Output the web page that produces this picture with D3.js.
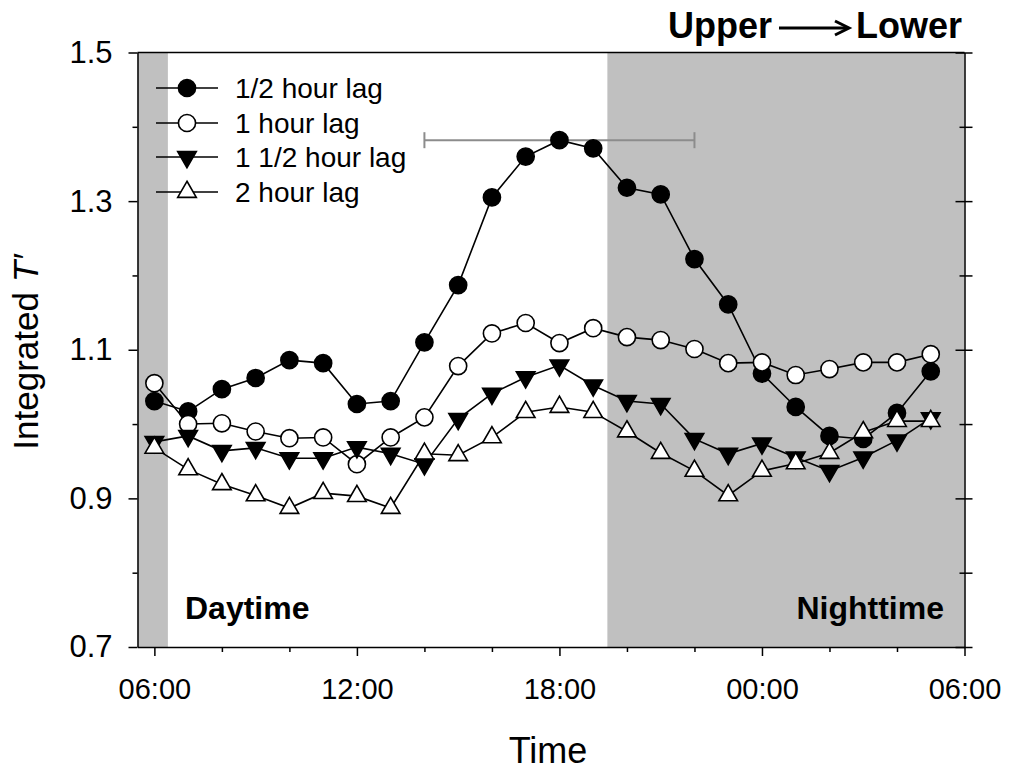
<!DOCTYPE html>
<html>
<head>
<meta charset="utf-8">
<script src="https://cdn.jsdelivr.net/npm/d3@7"></script>
<style>
  html, body { margin: 0; padding: 0; background: #fff; }
  svg { display: block; font-family: "Liberation Sans", Arial, sans-serif; }
</style>
</head>
<body>
<svg id="chart" width="1023" height="771"></svg>
<script>
// ---- data ----
const hours = [6,7,8,9,10,11,12,13,14,15,16,17,18,19,20,21,22,23,24,25,26,27,28,29];
const lagHalf = [1.031,1.017,1.047,1.062,1.086,1.082,1.027,1.031,1.110,1.187,1.305,1.360,1.382,1.371,1.318,1.309,1.222,1.161,1.068,1.023,0.984,0.980,1.015,1.071];
const lagOne = [1.055,1.000,1.001,0.990,0.981,0.982,0.946,0.982,1.009,1.078,1.122,1.136,1.109,1.129,1.117,1.113,1.101,1.082,1.083,1.066,1.074,1.083,1.083,1.094];
const lagOneHalf = [0.976,0.984,0.964,0.968,0.954,0.954,0.969,0.960,0.946,1.007,1.041,1.063,1.079,1.052,1.031,1.027,0.980,0.960,0.974,0.955,0.937,0.955,0.978,1.008];
const lagTwo = [0.968,0.939,0.919,0.904,0.887,0.907,0.903,0.887,0.960,0.958,0.982,1.016,1.023,1.016,0.990,0.961,0.937,0.904,0.937,0.947,0.961,0.989,1.004,1.004];
const seriesNames = ["1/2 hour lag", "1 hour lag", "1 1/2 hour lag", "2 hour lag"];
const nightBands = [[5.5, 6.4], [19.42, 30]];
const errorBar = { x0: 14, x1: 22, y: 1.382 };
const xMajorTicks = [6, 12, 18, 24, 30];
const xMajorLabels = ["06:00", "12:00", "18:00", "00:00", "06:00"];
const xMinorTicks = [8, 10, 14, 16, 20, 22, 26, 28];
const yMajorTicks = [0.7, 0.9, 1.1, 1.3, 1.5];
const yMinorTicks = [0.8, 1.0, 1.2, 1.4];

// ---- layout ----
const svg = d3.select("#chart");
const L = 137.5, R = 964.5, T = 52.5, B = 647;
const x = d3.scaleLinear().domain([5.5, 30]).range([L, R]);
const y = d3.scaleLinear().domain([0.7, 1.5]).range([B, T]);

// shaded bands
svg.selectAll("rect.band").data(nightBands).join("rect")
  .attr("class", "band")
  .attr("x", d => x(d[0])).attr("width", d => x(d[1]) - x(d[0]))
  .attr("y", T).attr("height", B - T)
  .attr("fill", "#c0c0c0");

// frame top
svg.append("line").attr("x1", L).attr("x2", R).attr("y1", T).attr("y2", T)
  .attr("stroke", "#000").attr("stroke-width", 1.5);

// axes
function styleAxis(g) {
  g.select(".domain").attr("stroke", "#000").attr("stroke-width", 1.5);
  g.selectAll(".tick line").attr("stroke", "#000").attr("stroke-width", 1.5);
  g.selectAll(".tick text").attr("fill", "#000");
}
const yAxis = svg.append("g").attr("transform", `translate(${L},0)`)
  .call(d3.axisLeft(y).tickValues(yMajorTicks).tickFormat(d3.format(".1f")).tickSize(9).tickPadding(16).tickSizeOuter(0));
yAxis.attr("font-size", 31).attr("font-family", null);
styleAxis(yAxis);
const yAxisMinor = svg.append("g").attr("transform", `translate(${L},0)`)
  .call(d3.axisLeft(y).tickValues(yMinorTicks).tickFormat("").tickSize(5).tickSizeOuter(0));
yAxisMinor.select(".domain").remove();
styleAxis(yAxisMinor);

const xAxis = svg.append("g").attr("transform", `translate(0,${B})`)
  .call(d3.axisBottom(x).tickValues(xMajorTicks).tickFormat((d, i) => xMajorLabels[i]).tickSize(9).tickPadding(22).tickSizeOuter(0));
xAxis.attr("font-size", 29).attr("font-family", null);
styleAxis(xAxis);
const xAxisMinor = svg.append("g").attr("transform", `translate(0,${B})`)
  .call(d3.axisBottom(x).tickValues(xMinorTicks).tickFormat("").tickSize(5).tickSizeOuter(0));
xAxisMinor.select(".domain").remove();
styleAxis(xAxisMinor);

// right axis: ticks crossing
const yRight = svg.append("g").attr("transform", `translate(${R},0)`)
  .call(d3.axisRight(y).tickValues(yMajorTicks).tickFormat("").tickSize(8).tickSizeOuter(0));
styleAxis(yRight);
yRight.selectAll(".tick line").attr("x1", -9);
const yRightMinor = svg.append("g").attr("transform", `translate(${R},0)`)
  .call(d3.axisRight(y).tickValues(yMinorTicks).tickFormat("").tickSize(8).tickSizeOuter(0));
yRightMinor.select(".domain").remove();
styleAxis(yRightMinor);
yRightMinor.selectAll(".tick line").attr("x1", -5);

// error bar
const eb = svg.append("g").attr("stroke", "#8c8c8c").attr("stroke-width", 2);
eb.append("line").attr("x1", x(errorBar.x0)).attr("x2", x(errorBar.x1)).attr("y1", y(errorBar.y)).attr("y2", y(errorBar.y));
[errorBar.x0, errorBar.x1].forEach(v => eb.append("line").attr("x1", x(v)).attr("x2", x(v)).attr("y1", y(errorBar.y) - 8).attr("y2", y(errorBar.y) + 8));

// series
const sym = [
  { type: d3.symbolCircle, size: 230, fill: "#000", rot: 0 },
  { type: d3.symbolCircle, size: 230, fill: "#fff", rot: 0 },
  { type: d3.symbolTriangle, size: 150, fill: "#000", rot: 180 },
  { type: d3.symbolTriangle, size: 150, fill: "#fff", rot: 0 }
];
const allSeries = [lagHalf, lagOne, lagOneHalf, lagTwo];
const line = d3.line().x((d, i) => x(hours[i])).y(d => y(d));
allSeries.forEach((vals, si) => {
  const g = svg.append("g");
  g.append("path").attr("d", line(vals)).attr("fill", "none").attr("stroke", "#000").attr("stroke-width", 1.6);
  g.selectAll("path.m").data(vals).join("path").attr("class", "m")
    .attr("d", d3.symbol().type(sym[si].type).size(sym[si].size))
    .attr("transform", (d, i) => `translate(${x(hours[i])},${y(d)}) rotate(${sym[si].rot})`)
    .attr("fill", sym[si].fill).attr("stroke", "#000").attr("stroke-width", 1.6);
});

// legend
const legY = [88, 123, 157, 192];
seriesNames.forEach((name, si) => {
  const g = svg.append("g").attr("transform", `translate(0,${legY[si]})`);
  g.append("line").attr("x1", 156).attr("x2", 218).attr("y1", 0).attr("y2", 0).attr("stroke", "#000").attr("stroke-width", 1.6);
  g.append("path").attr("d", d3.symbol().type(sym[si].type).size(sym[si].size))
    .attr("transform", `translate(187,0) rotate(${sym[si].rot})`)
    .attr("fill", sym[si].fill).attr("stroke", "#000").attr("stroke-width", 1.6);
  g.append("text").attr("x", 235).attr("y", 0).attr("dy", "0.36em").attr("font-size", 28).text(name);
});

// annotations
svg.append("text").attr("x", 185).attr("y", 619).attr("font-size", 32).attr("font-weight", "bold").text("Daytime");
svg.append("text").attr("x", 944).attr("y", 619).attr("text-anchor", "end").attr("font-size", 32).attr("font-weight", "bold").text("Nighttime");
svg.append("text").attr("x", 772).attr("y", 38).attr("text-anchor", "end").attr("font-size", 36).attr("font-weight", "bold").text("Upper");
svg.append("text").attr("x", 856).attr("y", 38).attr("font-size", 36).attr("font-weight", "bold").text("Lower");
svg.append("line").attr("x1", 779).attr("x2", 848).attr("y1", 28).attr("y2", 28).attr("stroke", "#000").attr("stroke-width", 3);
svg.append("path").attr("d", "M835,21 L849,28 L835,35").attr("fill", "none").attr("stroke", "#000").attr("stroke-width", 3);

// axis titles
svg.append("text").attr("x", 548).attr("y", 763).attr("text-anchor", "middle").attr("font-size", 36).text("Time");
const yt = svg.append("text").attr("transform", "translate(38,352) rotate(-90)").attr("text-anchor", "middle").attr("font-size", 35);
yt.append("tspan").text("Integrated ");
yt.append("tspan").attr("font-style", "italic").text("T\u2032");
</script>
</body>
</html>
